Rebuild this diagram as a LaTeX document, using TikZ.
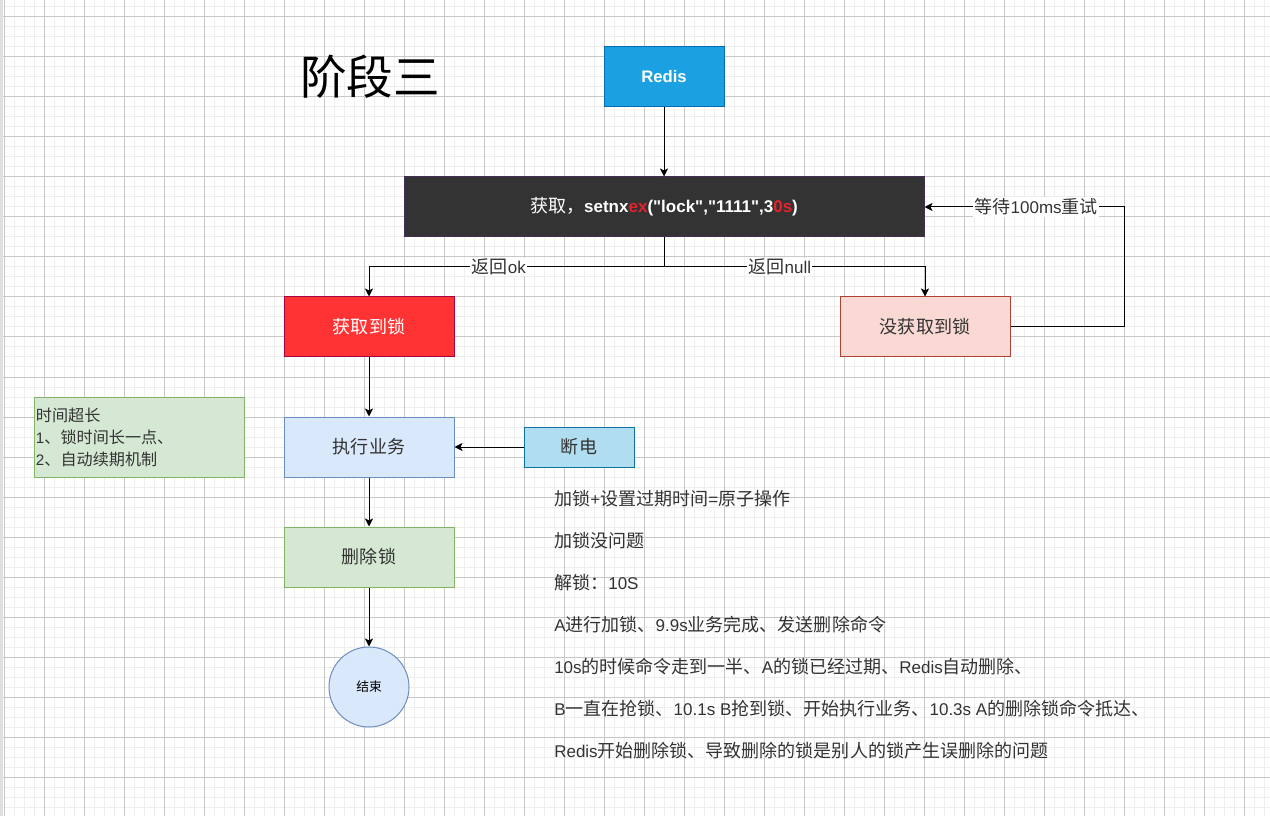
\documentclass[tikz,border=0pt]{standalone}
\usepackage{fontspec}
\setmainfont{Liberation Sans}
\newfontfamily\latinfont{Liberation Sans}
\newfontfamily\cjkfont[Scale=1.06]{Noto Sans CJK SC}
\usetikzlibrary{arrows.meta}
% automatic switching between Latin and CJK fonts
\XeTeXinterchartokenstate=1
\chardef\cjkcls=7
\newcount\cjkc
\cjkc="4E00
\loop \XeTeXcharclass\cjkc=\cjkcls \advance\cjkc by 1 \ifnum\cjkc<"A000 \repeat
\cjkc="3000
\loop \XeTeXcharclass\cjkc=\cjkcls \advance\cjkc by 1 \ifnum\cjkc<"3040 \repeat
\cjkc="FF00
\loop \XeTeXcharclass\cjkc=\cjkcls \advance\cjkc by 1 \ifnum\cjkc<"FFF0 \repeat
\XeTeXinterchartoks 0 \cjkcls = {\cjkfont}
\XeTeXinterchartoks 4095 \cjkcls = {\cjkfont}
\XeTeXinterchartoks \cjkcls 0 = {\latinfont}
\XeTeXinterchartoks \cjkcls 4095 = {\latinfont}
\definecolor{txt}{HTML}{333333}
\definecolor{gridminor}{HTML}{EEEEEE}
\definecolor{gridmajor}{HTML}{C8C8C8}
\definecolor{redisfill}{HTML}{1BA1E2}
\definecolor{redisdraw}{HTML}{006EAF}
\definecolor{darkfill}{HTML}{333333}
\definecolor{darkdraw}{HTML}{432D57}
\definecolor{redfill}{HTML}{FF3333}
\definecolor{reddraw}{HTML}{A50040}
\definecolor{pinkfill}{HTML}{FAD9D5}
\definecolor{pinkdraw}{HTML}{AE4132}
\definecolor{bluefill}{HTML}{DAE8FC}
\definecolor{bluedraw}{HTML}{6C8EBF}
\definecolor{cyanfill}{HTML}{B1DDF0}
\definecolor{cyandraw}{HTML}{10739E}
\definecolor{greenfill}{HTML}{D5E8D4}
\definecolor{greendraw}{HTML}{82B366}
\definecolor{hot}{HTML}{E8202A}
\begin{document}
\begin{tikzpicture}[x=0.75pt,y=-0.75pt,
  minorline/.style={draw=gridminor, line width=0.75pt},
  majorline/.style={draw=gridmajor, line width=0.75pt},
  box/.style={draw, line width=0.75pt, minimum width=127.5pt, minimum height=45pt,
    inner sep=0pt, font=\latinfont\fontsize{12.75}{15}\selectfont, text=txt},
  arr/.style={-{Stealth[length=6pt,width=6pt,inset=1.5pt]}, line width=0.75pt, black},
  lbl/.style={fill=white, inner sep=1pt, font=\latinfont\fontsize{12.75}{15}\selectfont, text=txt},
  para/.style={anchor=base west, inner sep=0pt, font=\latinfont\fontsize{12.75}{15}\selectfont, text=txt}]
\useasboundingbox (0,0) rectangle (1270,816);
\fill[white] (0,0) rectangle (1270,816);
% grid
\foreach \x in {4,14,...,1270} \draw[minorline] (\x,0) -- (\x,816);
\foreach \y in {7,17,...,816} \draw[minorline] (0,\y) -- (1270,\y);
\foreach \x in {4,44,...,1270} \draw[majorline] (\x,0) -- (\x,816);
\foreach \y in {17,57,...,816} \draw[majorline] (0,\y) -- (1270,\y);
\fill[black!12] (0,0) rectangle (2.5,816);
% title
\node (title) at (370,77) [inner sep=0pt, font=\fontsize{33}{38}\selectfont] {阶段三};
% nodes
\node (redis) at (664,77) [box, minimum width=90pt, fill=redisfill, draw=redisdraw,
  text=white, font=\latinfont\fontsize{12.5}{15}\selectfont\bfseries] {Redis};
\node (dark) at (664,207) [box, minimum width=390pt, fill=darkfill, draw=darkdraw,
  text=white, font=\latinfont\fontsize{12.75}{15}\selectfont\bfseries]
  {{\mdseries 获取，}\latinfont setnx{\color{hot}ex}("lock","1111",3{\color{hot}0s})};
\node (getlock) at (369,327) [box, fill=redfill, draw=reddraw, text=white] {获取到锁};
\node (nolock) at (925,327) [box, fill=pinkfill, draw=pinkdraw] {没获取到锁};
\node (exec) at (369,447) [box, fill=bluefill, draw=bluedraw] {执行业务};
\node (power) at (579,447) [box, minimum width=82.5pt, minimum height=30pt,
  fill=cyanfill, draw=cyandraw] {断电};
\node (del) at (369,557) [box, fill=greenfill, draw=greendraw] {删除锁};
\node (stop) at (369,687) [circle, draw=bluedraw, fill=bluefill, line width=0.75pt,
  minimum size=60pt, inner sep=0pt, font=\fontsize{9}{10}\selectfont, text=black] {结束};
\node (note) at (139,437) [box, minimum width=157.5pt, minimum height=60pt,
  fill=greenfill, draw=greendraw, align=left, text width=154.5pt,
  font=\latinfont\fontsize{11.4}{16.5}\selectfont]
  {时间超长\\1、锁时间长一点、\\2、自动续期机制};
% connectors
\coordinate (split) at (664,267);
\coordinate (turn) at (1124,327);
\draw[arr] (redis) -- (dark);
\draw[line width=0.75pt] (dark.south) -- (split);
\draw[arr] (split) -| node[lbl, pos=0.28] {返回ok} (getlock.north);
\draw[arr] (split) -| node[lbl, pos=0.222] {返回null} (nolock.north);
\draw[arr] (nolock.east) -- (turn) |- node[lbl, pos=0.72] {等待100ms重试} (dark.east);
\draw[arr] (getlock) -- (exec);
\draw[arr] (power) -- (exec);
\draw[arr] (exec) -- (del);
\draw[arr] (del) -- (stop);
% explanation
\node (t1) at (554,505) [para] {加锁+设置过期时间=原子操作};
\node (t2) at (554,547) [para] {加锁没问题};
\node (t3) at (554,589) [para] {解锁：10S};
\node (t4) at (554,631) [para] {A进行加锁、9.9s业务完成、发送删除命令};
\node (t5) at (554,673) [para] {10s的时候命令走到一半、A的锁已经过期、Redis自动删除、};
\node (t6) at (554,715) [para] {B一直在抢锁、10.1s B抢到锁、开始执行业务、10.3s A的删除锁命令抵达、};
\node (t7) at (554,757) [para] {Redis开始删除锁、导致删除的锁是别人的锁产生误删除的问题};
\end{tikzpicture}
\end{document}
